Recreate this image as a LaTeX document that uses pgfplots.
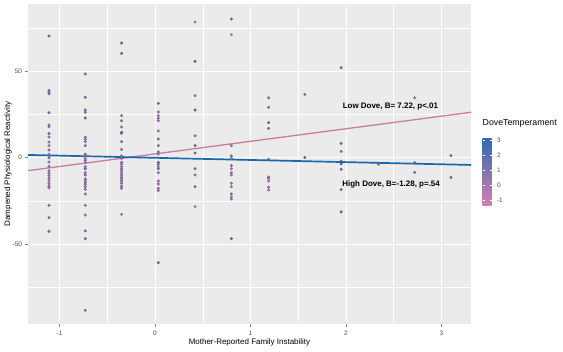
\documentclass[border=0pt]{standalone}
\usepackage{pgfplots}
\pgfplotsset{compat=1.18}
\usepackage{pgfplotstable}
\usetikzlibrary{calc}
\usepackage{fontspec}
\setmainfont{Liberation Sans}
\definecolor{panel}{HTML}{EBEBEB}
\definecolor{tickgray}{HTML}{4D4D4D}
\definecolor{hiblue}{RGB}{24,104,172}
\definecolor{lopink}{RGB}{204,122,170}

\pgfplotstableread{
x y c
-1.11 70.5 1
-1.11 39 0.5
-1.11 38 0.5
-1.11 37 0.5
-1.11 26 0.5
-1.11 19 0
-1.11 18 0.5
-1.11 14 0.5
-1.11 12 0
-1.11 9 0.5
-1.11 7 0
-1.11 4.5 0.5
-1.11 2 0
-1.11 0 1
-1.11 -2.5 0
-1.11 -5 0.5
-1.11 -7.5 0
-1.11 -9 0.5
-1.11 -10.4 0
-1.11 -12 0.5
-1.11 -13.5 0
-1.11 -15 0.5
-1.11 -16.4 0
-1.11 -17.4 0.5
-1.11 -27.6 1
-1.11 -34.7 1
-1.11 -42.6 1
-0.73 48.5 1
-0.73 35 0.5
-0.73 27.6 0.5
-0.73 26.3 0.5
-0.73 23 1.5
-0.73 11.8 0.5
-0.73 10.6 0.5
-0.73 9.3 0
-0.73 7 0.5
-0.73 2 0
-0.73 1 0.5
-0.73 -0.4 0
-0.73 -1.5 0.5
-0.73 -2.7 0
-0.73 -5.2 0.5
-0.73 -6.4 1
-0.73 -8.7 0
-0.73 -10 0.5
-0.73 -12.3 0
-0.73 -13 0.5
-0.73 -14.3 1
-0.73 -15.4 0
-0.73 -16.8 0.5
-0.73 -18.3 0
-0.73 -21 -0.5
-0.73 -27.6 -0.5
-0.73 -33.2 0
-0.73 -42.4 1
-0.73 -46.9 1
-0.73 -88.4 0.5
-0.35 66.4 1.5
-0.35 60.4 1
-0.35 24.3 0
-0.35 21.4 0.5
-0.35 17.8 0
-0.35 14.7 2.5
-0.35 14.1 1
-0.35 9.3 0.5
-0.35 4.8 0
-0.35 1 0.5
-0.35 -0.4 0
-0.35 -2.7 0.5
-0.35 -3.8 0
-0.35 -5.2 0.5
-0.35 -6.4 0
-0.35 -7.5 0.5
-0.35 -8.7 0
-0.35 -10 0.5
-0.35 -11.2 0
-0.35 -12.3 0.5
-0.35 -13.5 0
-0.35 -14.8 0.5
-0.35 -16.4 0
-0.35 -17.7 0.5
-0.35 -32.8 -0.5
0.035 31.5 1
0.035 26.5 0.5
0.035 24.3 0
0.035 22.8 0.5
0.035 21.4 0
0.035 15.5 -0.5
0.035 10.8 0.5
0.035 7 0
0.035 3.3 0.5
0.035 2.1 -0.5
0.035 -2.7 1
0.035 -3.8 0.5
0.035 -5.2 0
0.035 -6.4 0.5
0.035 -8.7 0
0.035 -13.5 0.5
0.035 -15.2 0
0.035 -17.7 0.5
0.035 -19 0
0.035 -60.8 1.5
0.42 78.6 -1
0.42 55.8 2
0.42 35.9 0
0.42 27.6 3
0.42 12.7 0.5
0.42 7 1
0.42 2.7 1.5
0.42 -6.4 0.5
0.42 -10 0.5
0.42 -16.8 1
0.42 -28.4 -1
0.80 80.3 1.5
0.80 71.2 -1
0.80 7 0
0.80 1 0.5
0.80 -0.4 0
0.80 -4.6 0.5
0.80 -6.4 0
0.80 -8.7 0.5
0.80 -10 0
0.80 -14.8 0.5
0.80 -16.8 0
0.80 -21 0.5
0.80 -22.6 0
0.80 -23.9 0.5
0.80 -46.9 1.5
1.19 34.7 0.5
1.19 29.2 0.5
1.19 20.3 1
1.19 17 1
1.19 -1 1
1.19 -11.2 0
1.19 -12 0.5
1.19 -13.5 0
1.19 -17.1 0.5
1.19 -18.7 0
1.57 36.7 0
1.57 0.2 1
1.95 52.1 1.5
1.95 8.3 0.5
1.95 3.7 0.5
1.95 -2.1 2.5
1.95 -3.6 2
1.95 -6.7 1.5
1.95 -18.5 1
1.95 -31.4 2
2.34 -3.8 1
2.72 34.7 -0.5
2.72 -2.9 1
2.72 -8.5 0.5
3.10 1.2 1
3.10 -11.4 1
}\pts

\begin{document}
\begin{tikzpicture}
\begin{axis}[
  at={(0,0)}, anchor=south west,
  scale only axis, width=443bp, height=320bp,
  xmin=-1.33, xmax=3.31, ymin=-96.3, ymax=89,
  axis background/.style={fill=panel},
  axis line style={draw=none},
  grid=both,
  major grid style={white, line width=0.8bp},
  minor grid style={white, line width=0.4bp},
  xtick={-1,0,1,2,3}, ytick={-50,0,50},
  minor xtick={-0.5,0.5,1.5,2.5}, minor ytick={-75,-25,25,75},
  xtick pos=bottom, ytick pos=left,
  tick align=outside, major tick length=2.5bp, minor tick length=0bp,
  tick style={color=tickgray!70, line width=0.5bp},
  /pgf/number format/assume math mode=true,
  ticklabel style={font=\fontsize{6.5}{7}\selectfont, text=tickgray},
  xticklabel style={yshift=-1bp},
  xlabel={Mother-Reported Family Instability},
  ylabel={Dampened Physiological Reactivity},
  label style={font=\fontsize{8}{9}\selectfont},
  xlabel style={at={(axis description cs:0.5,-0.0584)}, anchor=center},
  ylabel style={at={(axis description cs:-0.045,0.5)}, anchor=center},
  colormap={dove}{rgb255(0cm)=(216,126,178); rgb255(1cm)=(44,106,176)},
  point meta min=-1.38, point meta max=3.18,
  colorbar,
  colorbar style={
    at={($(parent axis.south east)+(3bp,118bp)$)}, anchor=south west,
    scale only axis, width=9bp, height=68bp,
    grid=none,
    ytick={-1,0,1,2,3},
    minor ytick={},
    yticklabel pos=right,
    ytick pos=both,
    axis line style={draw=none},
    tick align=inside, major tick length=2bp,
    tick style={white, line width=0.6bp},
    /pgf/number format/assume math mode=true,
    yticklabel style={font=\fontsize{6.5}{7}\selectfont, text=tickgray, xshift=2bp},
    title={DoveTemperament},
    title style={at={(0,1)}, anchor=south west, inner sep=0pt, yshift=4bp, font=\fontsize{8.8}{10}\selectfont},
  },
]
\addplot[scatter, only marks, mark=*, mark size=1.3bp, point meta=explicit]
  table[x=x, y=y, meta=c] {\pts};
\addplot[lopink, line width=1.3bp] coordinates {(-1.33,-7.5) (3.31,26.3)};
\addplot[hiblue, line width=1.7bp] coordinates {(-1.33,1.6) (3.31,-4.2)};
\node[anchor=west, inner sep=0pt, font=\bfseries\fontsize{8}{9}\selectfont] at (axis cs:1.965,29.5) {Low Dove, B= 7.22, p<.01};
\node[anchor=west, inner sep=0pt, font=\bfseries\fontsize{8}{9}\selectfont] at (axis cs:1.961,-15.4) {High Dove, B=-1.28, p=.54};
\end{axis}
\pgfresetboundingbox
\useasboundingbox (-28bp,-28bp) rectangle (535bp,324bp);
\end{tikzpicture}
\end{document}
